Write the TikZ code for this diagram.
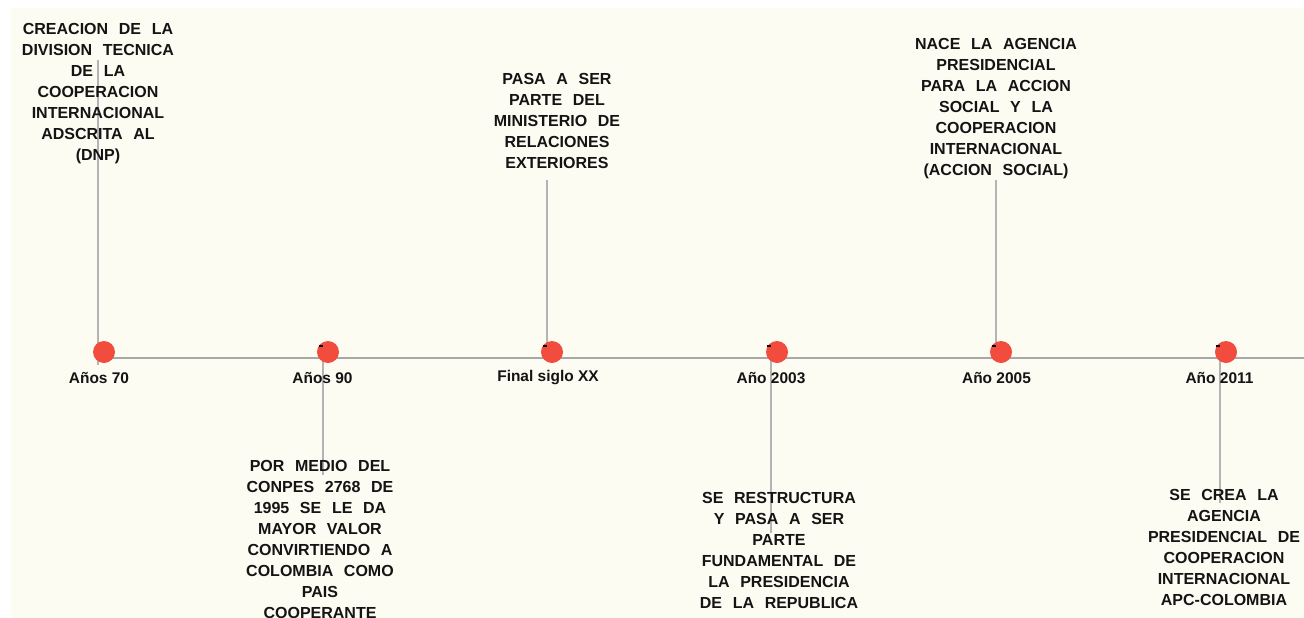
\documentclass[tikz,border=0pt]{standalone}
\usepackage{fontspec}
\setmainfont{Liberation Sans}
\newfontfamily\blkfont{Liberation Sans}[WordSpace=2.4]
\definecolor{bgcream}{HTML}{FCFCF3}
\definecolor{axisgray}{HTML}{A8A8A8}
\definecolor{conngray}{HTML}{B4B4B4}
\definecolor{dotred}{HTML}{F24C3E}
\definecolor{txtdark}{HTML}{141414}
\tikzset{
  dotnode/.style={circle,fill=dotred,draw=none,minimum size=16.5,inner sep=0},
  yearlabel/.style={font=\bfseries\fontsize{11.6}{14}\selectfont,text=txtdark,inner sep=0},
  eventtext/.style={font=\blkfont\bfseries\fontsize{12}{15.75}\selectfont,text=txtdark,align=center,inner sep=0},
  connector/.style={draw=conngray,line width=1.1pt},
  axisline/.style={draw=axisgray,line width=1.5pt},
  tickmark/.style={draw=black,line width=1.3pt}
}
\begin{document}
\begin{tikzpicture}[x=0.75pt,y=-0.75pt]
\useasboundingbox (0,0) rectangle (1304,618);
\clip (0,0) rectangle (1304,618);
\fill[white] (0,0) rectangle (1304,618);
\fill[bgcream] (11,8) rectangle (1304,618);

% axis
\coordinate (axL) at (98,358);
\coordinate (axR) at (1304,358);
\draw[axisline] (axL) -- (axR);

% connector end points
\coordinate (c1a) at (98,60);   \coordinate (c1b) at (98,365);
\coordinate (c2a) at (323,358); \coordinate (c2b) at (323,475);
\coordinate (c3a) at (547,180); \coordinate (c3b) at (547,345);
\coordinate (c4a) at (771,358); \coordinate (c4b) at (771,533);
\coordinate (c5a) at (996,180); \coordinate (c5b) at (996,345);
\coordinate (c6a) at (1220,358);\coordinate (c6b) at (1220,503);

\draw[connector] (c1a) -- (c1b);
\draw[connector] (c2a) -- (c2b);
\draw[connector] (c3a) -- (c3b);
\draw[connector] (c4a) -- (c4b);
\draw[connector] (c5a) -- (c5b);
\draw[connector] (c6a) -- (c6b);

% dots
\node[dotnode] (d1) at (104,352) {};
\node[dotnode] (d2) at (328,352) {};
\node[dotnode] (d3) at (552,352) {};
\node[dotnode] (d4) at (777,352) {};
\node[dotnode] (d5) at (1001,352) {};
\node[dotnode] (d6) at (1226,352) {};

% small marks
\foreach \mx in {323,547,771,996,1220}{
  \draw[tickmark] (\mx-4.5,346) -- (\mx,346);
}

% year labels
\node[yearlabel] (y1) at (99,378) {Años 70};
\node[yearlabel] (y2) at (322.5,378) {Años 90};
\node[yearlabel] (y3) at (548,378) {Final siglo XX};
\node[yearlabel] (y4) at (771,378) {Año 2003};
\node[yearlabel] (y5) at (996.5,378) {Año 2005};
\node[yearlabel] (y6) at (1219.5,378) {Año 2011};

% event texts
\node[eventtext] (e1) at (98,94) {CREACION DE LA\\DIVISION TECNICA\\DE LA\\COOPERACION\\INTERNACIONAL\\ADSCRITA AL\\(DNP)};
\node[eventtext] (e2) at (320,539) {POR MEDIO DEL\\CONPES 2768 DE\\1995 SE LE DA\\MAYOR VALOR\\CONVIRTIENDO A\\COLOMBIA COMO\\PAIS\\COOPERANTE};
\node[eventtext] (e3) at (557,121) {PASA A SER\\PARTE DEL\\MINISTERIO DE\\RELACIONES\\EXTERIORES};
\node[eventtext] (e4) at (779,550) {SE RESTRUCTURA\\Y PASA A SER\\PARTE\\FUNDAMENTAL DE\\LA PRESIDENCIA\\DE LA REPUBLICA};
\node[eventtext] (e5) at (996,109) {NACE LA AGENCIA\\PRESIDENCIAL\\PARA LA ACCION\\SOCIAL Y LA\\COOPERACION\\INTERNACIONAL\\(ACCION SOCIAL)};
\node[eventtext] (e6) at (1224,547) {SE CREA LA\\AGENCIA\\PRESIDENCIAL DE\\COOPERACION\\INTERNACIONAL\\APC-COLOMBIA};
\end{tikzpicture}
\end{document}
